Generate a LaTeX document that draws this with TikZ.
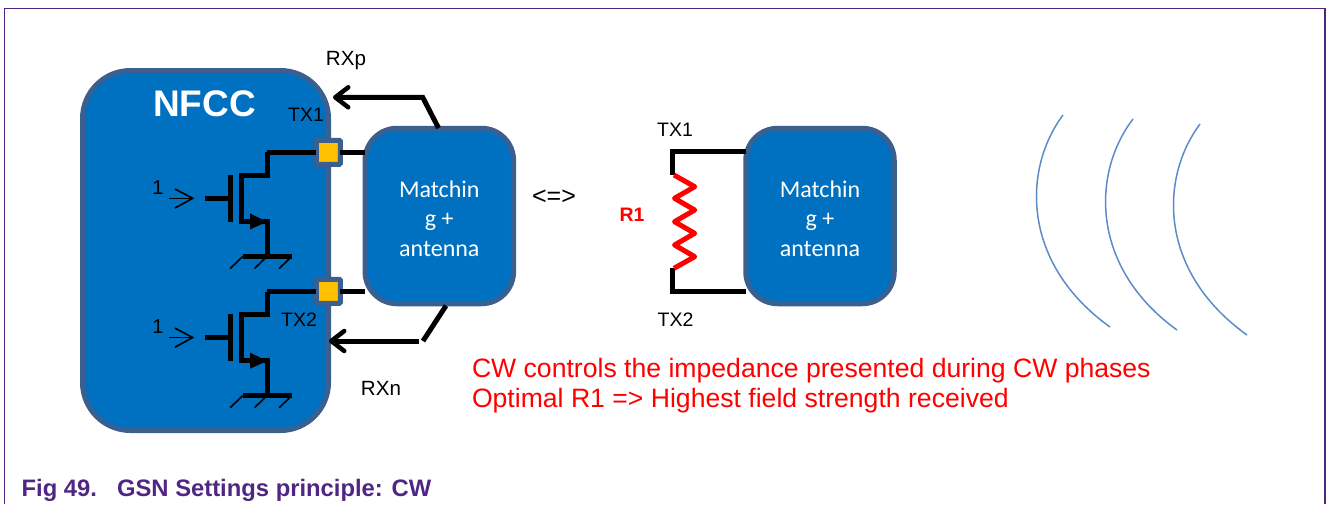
\documentclass[tikz,border=0pt]{standalone}
\usepackage{fontspec}
\setmainfont{Liberation Sans}
\newfontfamily\carl{Carlito}
\usetikzlibrary{arrows.meta}
\definecolor{nxpblue}{HTML}{0070C0}
\definecolor{edgeblue}{HTML}{3B5F8F}
\definecolor{padyellow}{HTML}{FFC000}
\definecolor{framepurple}{HTML}{4F2683}
\definecolor{wave}{HTML}{5B8CC8}
\newcommand{\fsz}[1]{\fontsize{#1}{#1}\selectfont}
\tikzset{
  x=1pt,y=-1pt,
  block/.style={draw=edgeblue,fill=nxpblue,line width=5pt,rounded corners=#1,outer sep=0pt,inner sep=0pt},
  matchbox/.style={block=32pt,minimum width=148.5pt,minimum height=175.5pt,text=white,align=center,
     font={\carl\fontsize{24}{29.5}\selectfont}},
  padbox/.style={draw=edgeblue,fill=padyellow,line width=5pt,rounded corners=1pt,minimum size=24pt,inner sep=0pt,outer sep=0pt},
  wire/.style={draw=black,line width=5pt},
  thin wire/.style={draw=black,line width=1.6pt},
  rxarrow/.style={draw=black,line width=5pt,-{Straight Barb[length=13pt,width=20pt,line width=4.5pt,round]}},
  lbl/.style={anchor=base,inner sep=0pt,outer sep=0pt,font=\fsz{19.5}},
  rxlbl/.style={lbl,font=\fsz{20.6}},
  redtxt/.style={anchor=base west,inner sep=0pt,outer sep=0pt,text=red,font=\fsz{26.6}},
  wavearc/.style={draw=wave,line width=1.5pt},
}
\begin{document}
\begin{tikzpicture}
\useasboundingbox (0,0) rectangle (1326,504);
% frame
\coordinate (fbl) at (4.5,504);
\coordinate (ftl) at (4.5,8.5);
\coordinate (ftr) at (1325,8.5);
\coordinate (fbr) at (1325,504);
\draw[framepurple,line width=1.7pt] (fbl) -- (ftl) -- (ftr) -- (fbr);
% blocks
\node[block=48pt,minimum width=246pt,minimum height=360pt] (nfcc) at (205.5,250.5) {};
\node[anchor=base,text=white,inner sep=0pt,font=\bfseries\fsz{37}] (nfcclbl) at (204.5,116.7) {NFCC};
\node[matchbox] (m1) at (439.3,216) {\rule{0pt}{21.5pt}Matchin\\g +\\antenna};
\node[matchbox] (m2) at (820,216) {\rule{0pt}{21.5pt}Matchin\\g +\\antenna};
\node[padbox] (p1) at (328.3,152.3) {};
\node[padbox] (p2) at (328.3,291.3) {};
% pad to matching
\draw[wire] (p1.east) -- (p1.east -| m1.west);
\draw[wire] (p2.east) -- (p2.east -| m1.west);
% transistors
\foreach \n/\dy in {a/0,b/139.2}{
\begin{scope}[shift={(0,\dy)}]
  \coordinate (d\n) at (267,152.3);
  \coordinate (e\n) at (267,175);
  \coordinate (c\n) at (241.7,175);
  \coordinate (f\n) at (241.7,221.7);
  \coordinate (s\n) at (267,221.7);
  \coordinate (g\n) at (267,256.5);
  \coordinate (gt\n) at (230,175);
  \coordinate (gb\n) at (230,221.7);
  \coordinate (gl\n) at (205,198.3);
  \coordinate (gm\n) at (230,198.3);
  \coordinate (ia\n) at (169,198.3);
  \coordinate (ib\n) at (192.7,198.3);
  \draw[wire,line join=miter] (d\n) -- (e\n) -- (c\n) -- (f\n) -- (s\n) -- (g\n);
  \draw[wire] (gt\n) -- (gb\n);
  \draw[wire] (gl\n) -- (gm\n);
  \fill[black] (250,213.5) -- (267,221.7) -- (250,229.5) -- cycle;
  \draw[wire] (242.5,256.5) -- (292,256.5);
  \draw[thin wire] (242.7,256.5) -- +(-12.5,12);
  \draw[thin wire] (267,256.5) -- +(-12.5,12);
  \draw[thin wire] (291.7,256.5) -- +(-12.5,12);
  \draw[thin wire] (ia\n) -- (ib\n);
  \draw[thin wire] (175,189) -- (ib\n) -- (175,208);
  \node[lbl,font=\fsz{20}] (one\n) at (158,194) {1};
\end{scope}}
\draw[wire] (da -| p1.west) -- (da);
\draw[wire] (db -| p2.west) -- (db);
% RX connectors
\coordinate (rxpa) at (438.5,128);
\coordinate (rxpb) at (422.7,97.3);
\coordinate (rxpc) at (333,97.3);
\draw[rxarrow,line join=miter] (rxpa) -- (rxpb) -- (rxpc);
\coordinate (rxna) at (446,305.7);
\coordinate (rxnb) at (423,341);
\coordinate (rxnc) at (419,341);
\coordinate (rxnd) at (329,341);
\draw[wire] (rxna) -- (rxnb);
\draw[rxarrow] (rxnc) -- (rxnd);
% labels
\node[lbl] (ltx1) at (306,121.7) {TX1};
\node[lbl] (ltx2) at (299,326.7) {TX2};
\node[rxlbl] (lrxp) at (346,65) {RXp};
\node[rxlbl] (lrxn) at (381,395.7) {RXn};
\node[lbl,font=\fsz{25}] (equiv) at (554,204) {<=>};
% right circuit
\coordinate (ra) at (672.3,151.7);
\coordinate (rb) at (672.3,175);
\coordinate (rc) at (672.3,268.3);
\coordinate (rd) at (672.3,291.7);
\draw[wire,line join=miter] (ra -| m2.west) -- (ra) -- (rb);
\draw[wire,line join=miter] (rc) -- (rd) -- (rd -| m2.west);
\draw[red,line width=5pt,line join=round] (674,175) -- (694.7,186.7) -- (674.5,198.3) -- (694.7,210) -- (674.5,221.7) -- (694.7,233.3) -- (674.5,245) -- (694.7,256.7) -- (674,268.3);
\node[lbl] (rtx1) at (675,136.7) {TX1};
\node[lbl] (rtx2) at (675.5,326) {TX2};
\node[lbl,text=red,font=\bfseries\fsz{19.5}] (r1) at (632,221.7) {R1};
% waves
\draw[wavearc] (1063,115) .. controls (1022,170) and (1022,264) .. (1110,327);
\draw[wavearc] (1133,119) .. controls (1091,174) and (1091,268) .. (1177,330);
\draw[wavearc] (1200,124) .. controls (1159,179) and (1159,272) .. (1247,335);
% red text
\node[redtxt] (t1) at (472,377) {CW controls the impedance presented during CW phases};
\node[redtxt] (t2) at (472,407) {Optimal R1 => Highest field strength received};
% caption
\node[anchor=base west,inner sep=0pt,text=framepurple,font=\bfseries\fsz{23.8}] (cap) at (21.5,496) {Fig 49.\hspace{20pt}GSN Settings principle: CW};
\end{tikzpicture}
\end{document}
